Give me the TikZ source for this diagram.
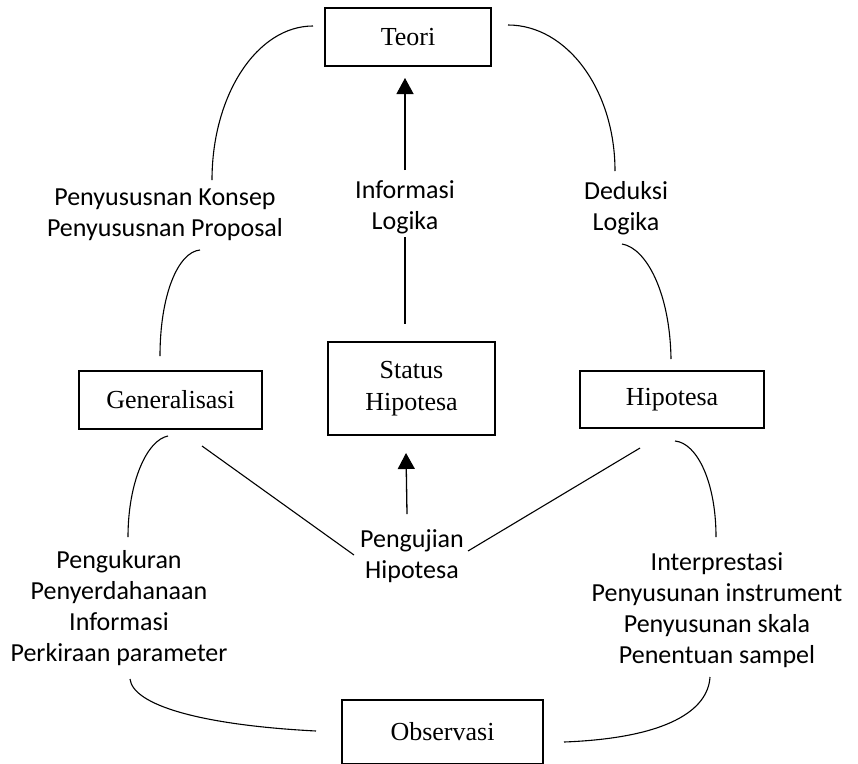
\documentclass[tikz,border=0pt]{standalone}
\usepackage{fontspec}
\setmainfont{Liberation Serif}
\newfontfamily\labfont{Carlito}
\usetikzlibrary{arrows.meta}
\begin{document}
\begin{tikzpicture}[x=1pt,y=-1pt,
  box/.style={draw, line width=2.4pt, inner sep=0pt, align=center,
    font=\fontsize{26}{32}\selectfont},
  lab/.style={inner sep=0pt, align=center, font=\labfont\fontsize{26}{31}\selectfont},
  ln/.style={line width=1.1pt},
  arr/.style={line width=1.3pt, -{Triangle[length=16pt,width=17pt]}}]
\clip (0,0) rectangle (858,763);
% boxes
\node[box, minimum width=166pt, minimum height=58pt] (teori) at (408,37) {Teori};
\node[box, minimum width=183pt, minimum height=58pt] (gen) at (170.5,400) {Generalisasi};
\node[box, minimum width=167pt, minimum height=93pt] (status) at (411.5,388.5) {Status\\Hipotesa};
\node[box, minimum width=184pt, minimum height=57pt] (hipo) at (672,399.5) {Hipotesa};
\node[box, minimum width=201pt, minimum height=64pt] (obs) at (442.5,732) {Observasi};
% labels
\node[lab] (konsep) at (165,215) {Penyususnan Konsep\\Penyususnan Proposal};
\node[lab] (info) at (405,207) {Informasi\\Logika};
\node[lab] (ded) at (626,208) {Deduksi\\Logika};
\node[lab] (uji) at (412,556) {Pengujian\\Hipotesa};
\node[lab] (ukur) at (119,608) {Pengukuran\\Penyerdahanaan\\Informasi\\Perkiraan parameter};
\node[lab] (interp) at (717,610) {Interprestasi\\Penyusunan instrument\\Penyusunan skala\\Penentuan sampel};
% connector end points
\coordinate (tL) at (313,26);
\coordinate (kT) at (212,180);
\coordinate (tR) at (508,25);
\coordinate (dT) at (615,171);
\coordinate (kB) at (200,250);
\coordinate (gT) at (160,356);
\coordinate (dB) at (622,244);
\coordinate (hT) at (671,359);
\coordinate (iT) at (405,170);
\coordinate (teB) at (405,78);
\coordinate (iB) at (405,237);
\coordinate (sT) at (405,324);
\coordinate (gB) at (168,436);
\coordinate (uT) at (128,537);
\coordinate (hB) at (675,441);
\coordinate (pT) at (716,537);
\coordinate (gD) at (202,446);
\coordinate (uL) at (354,555);
\coordinate (hD) at (640,448);
\coordinate (uR) at (468,551);
\coordinate (ujT) at (407,514);
\coordinate (sB) at (406,453);
\coordinate (uB) at (130,679);
\coordinate (oL) at (316,731);
\coordinate (pB) at (710,677);
\coordinate (oR) at (564,742);
% connectors
\draw[ln] (tL) .. controls (257,26) and (212,95) .. (kT);
\draw[ln] (tR) .. controls (567,25) and (615,90) .. (dT);
\draw[ln] (kB) .. controls (178,252) and (160,295) .. (gT);
\draw[ln] (dB) .. controls (646,248) and (670,292) .. (hT);
\draw[arr] (iT) -- (teB);
\draw[ln] (iB) -- (sT);
\draw[ln] (gB) .. controls (147,440) and (128,482) .. (uT);
\draw[ln] (hB) .. controls (697,443) and (716,482) .. (pT);
\draw[ln] (gD) -- (uL);
\draw[ln] (hD) -- (uR);
\draw[arr] (ujT) -- (sB);
\draw[ln] (uB) .. controls (133,705) and (200,725) .. (oL);
\draw[ln] (pB) .. controls (708,710) and (668,738) .. (oR);
\end{tikzpicture}
\end{document}
